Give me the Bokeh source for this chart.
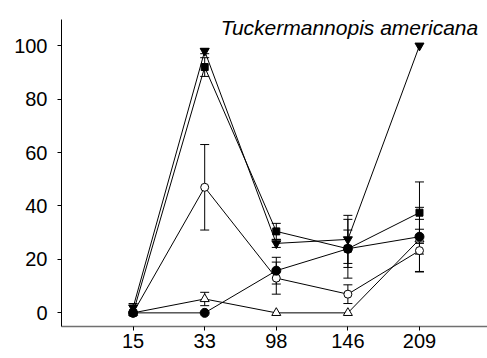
from bokeh.plotting import figure
from bokeh.models import ColumnDataSource, Whisker, TeeHead, FixedTicker, Range1d, Label
from bokeh.embed import file_html
from bokeh.resources import INLINE

# Sampling days and the mean values (with error half-widths) of each series
days = ["15", "33", "98", "146", "209"]

down_tri = [2, 98, 26, 27.5, 100]
down_tri_err = [1.5, 1, 1.5, 9, 0]

square = [0, 92, 30.5, 24, 37.5]
square_err = [0, 3.5, 3, 11, 11.5]

open_circle = [0, 47, 13, 7, 23.3]
open_circle_err = [0, 16, 6, 3.5, 8]

open_tri = [0, 5.2, 0, 0, 27.5]
open_tri_err = [0, 2.5, 0, 0, 12]

filled_circle = [0, 0, 15.8, 24, 28.5]
filled_circle_err = [0, 0, 5, 7, 6.5]

y_ticks = [0, 20, 40, 60, 80, 100]

FONT = "Liberation Sans"

xpos = list(range(len(days)))

p = figure(width=487, height=358, output_backend="svg", toolbar_location=None,
           x_range=Range1d(-1, 4.95), y_range=Range1d(-5.1, 109.8),
           min_border_left=61, min_border_right=0, min_border_top=19,
           min_border_bottom=32)
p.outline_line_color = None
p.xgrid.visible = False
p.ygrid.visible = False
p.background_fill_color = "white"
p.border_fill_color = "white"

# axes
p.xaxis.ticker = FixedTicker(ticks=xpos)
p.xaxis.major_label_overrides = {i: d for i, d in enumerate(days)}
p.yaxis.ticker = FixedTicker(ticks=y_ticks)
for ax in (p.xaxis, p.yaxis):
    ax.major_tick_in = 0
    ax.major_tick_out = 4
    ax.minor_tick_line_color = None
    ax.major_tick_line_color = "black"
    ax.major_label_text_font = FONT
    ax.major_label_text_font_size = "20px"
    ax.major_label_text_color = "black"
p.xaxis.axis_line_color = "#707070"
p.xaxis.axis_line_width = 1.5
p.yaxis.axis_line_color = "black"
p.xaxis.major_label_standoff = 3
p.yaxis.major_label_standoff = 10

series = [
    (down_tri, down_tri_err, "inverted_triangle", 9, "black"),
    (square, square_err, "square", 7, "black"),
    (open_circle, open_circle_err, "circle", 8, "white"),
    (open_tri, open_tri_err, "triangle", 9, "white"),
    (filled_circle, filled_circle_err, "circle", 9, "black"),
]

# connecting lines
for vals, errs, mk, sz, fill in series:
    p.line(xpos, vals, line_color="black", line_width=1)

# error bars (only where an error is present)
for vals, errs, mk, sz, fill in series:
    xs = [x for x, e in zip(xpos, errs) if e > 0]
    up = [v + e for v, e in zip(vals, errs) if e > 0]
    lo = [v - e for v, e in zip(vals, errs) if e > 0]
    if not xs:
        continue
    src = ColumnDataSource(dict(x=xs, upper=up, lower=lo))
    w = Whisker(base="x", upper="upper", lower="lower", source=src,
                dimension="height", line_color="black", line_width=1,
                upper_head=TeeHead(size=9, line_color="black", line_width=1),
                lower_head=TeeHead(size=9, line_color="black", line_width=1))
    p.add_layout(w)

# markers
for vals, errs, mk, sz, fill in series:
    p.scatter(xpos, vals, marker=mk, size=sz, fill_color=fill,
              line_color="black", line_width=1)

title = Label(x=4.82, y=106.8, text="Tuckermannopis americana",
              text_font=FONT, text_font_size="21px", text_font_style="italic",
              text_align="right", text_baseline="alphabetic", text_color="black")
p.add_layout(title)

open("out.html", "w").write(file_html(p, INLINE))
